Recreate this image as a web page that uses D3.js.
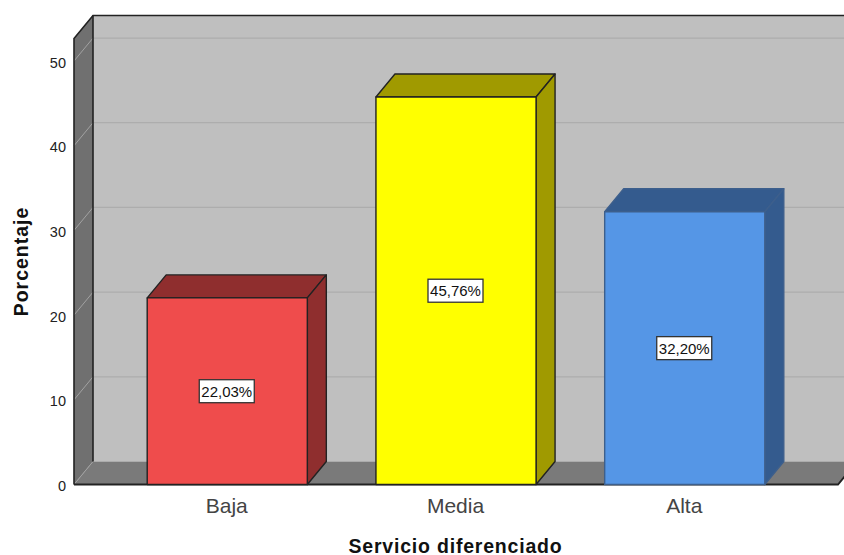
<!DOCTYPE html>
<html>
<head>
<meta charset="utf-8">
<script src="https://cdn.jsdelivr.net/npm/d3@7"></script>
<style>
html,body{margin:0;padding:0;background:#fff;overflow:hidden}
text{font-family:"Liberation Sans",Arial,sans-serif}
</style>
</head>
<body>
<script>
const categories = ["Baja", "Media", "Alta"];
const values = [22.03, 45.76, 32.20];
const valueLabels = ["22,03%", "45,76%", "32,20%"];
const frontColors = ["#ef4c4c", "#ffff00", "#5596e6"];
const sideColors = ["#8f2e2e", "#a09a00", "#345b8e"];
const edgeColors = ["#222", "#222", "#3d5f8c"];
const yTicks = [0, 10, 20, 30, 40, 50];
const xTitle = "Servicio diferenciado";
const yTitle = "Porcentaje";

const W = 844, H = 555, dx = 19, dy = -23;
const x0 = 74, x1 = 838, yBase = 484.5;
const y = d3.scaleLinear().domain([0, 52.66]).range([yBase, 38.5]);
const x = d3.scaleBand().domain(categories).range([x0, x1]).paddingInner(0.3).paddingOuter(0.32);
const yTop = y.range()[1];

const svg = d3.select("body").append("svg").attr("width", W).attr("height", H).style("display", "block");
const poly = pts => pts.map(p => p.join(",")).join(" ");
const ink = "#222";

// back wall
svg.append("rect").attr("x", x0 + dx).attr("y", yTop + dy).attr("width", W).attr("height", yBase - yTop)
  .attr("fill", "#bfbfbf");
// floor
svg.append("polygon").attr("points", poly([[x0, yBase], [x0 + dx, yBase + dy], [x1 + dx, yBase + dy], [x1, yBase]]))
  .attr("fill", "#7a7a7a");
// left wall
svg.append("polygon").attr("points", poly([[x0, yBase], [x0 + dx, yBase + dy], [x0 + dx, yTop + dy], [x0, yTop]]))
  .attr("fill", "#707070");

// gridlines
const gridTicks = yTicks.filter(d => d > 0);
svg.append("g").selectAll("line").data(gridTicks).join("line")
  .attr("x1", x0 + dx).attr("x2", W).attr("y1", d => y(d) + dy).attr("y2", d => y(d) + dy)
  .attr("stroke", "#adadad").attr("stroke-width", 1.2);
svg.append("g").selectAll("line").data(yTicks).join("line")
  .attr("x1", x0).attr("x2", x0 + dx).attr("y1", d => y(d)).attr("y2", d => y(d) + dy)
  .attr("stroke", "#a2a2a2").attr("stroke-width", 1);

// frame
svg.append("polyline").attr("points", poly([[x0, yBase], [x0, yTop], [x0 + dx, yTop + dy], [W, yTop + dy]]))
  .attr("fill", "none").attr("stroke", ink).attr("stroke-width", 1.6);
svg.append("line").attr("x1", x0 + dx).attr("x2", x0 + dx).attr("y1", yTop + dy).attr("y2", yBase + dy)
  .attr("stroke", ink).attr("stroke-width", 1.6);
svg.append("polyline").attr("points", poly([[x0, yBase], [x1, yBase], [x1 + dx, yBase + dy]]))
  .attr("fill", "none").attr("stroke", ink).attr("stroke-width", 1.8);

// bars
const bars = svg.append("g").selectAll("g").data(categories).join("g");
bars.each(function (c, i) {
  const g = d3.select(this), l = x(c), r = l + x.bandwidth(), t = y(values[i]);
  const add = (pts, fill) => g.append("polygon").attr("points", poly(pts)).attr("fill", fill)
    .attr("stroke", edgeColors[i]).attr("stroke-width", 1.4).attr("stroke-linejoin", "round");
  add([[l, t], [l + dx, t + dy], [r + dx, t + dy], [r, t]], sideColors[i]);
  add([[r, t], [r + dx, t + dy], [r + dx, yBase + dy], [r, yBase]], sideColors[i]);
  add([[l, t], [r, t], [r, yBase], [l, yBase]], frontColors[i]);
  const cx = l + x.bandwidth() / 2 - 0.5, cy = (t + yBase) / 2;
  g.append("rect").attr("x", cx - 27.5).attr("y", cy - 11.5).attr("width", 55).attr("height", 23)
    .attr("fill", "#fff").attr("stroke", "#333").attr("stroke-width", 1.3);
  g.append("text").attr("x", cx).attr("y", cy + 5.5).attr("text-anchor", "middle")
    .attr("font-size", 15).attr("fill", "#111").text(valueLabels[i]);
});

// y tick labels
svg.append("g").selectAll("text").data(yTicks).join("text")
  .attr("x", 66).attr("y", d => y(d) + 6.5).attr("text-anchor", "end")
  .attr("font-size", 14.5).attr("fill", "#222").text(d => d);

// category labels
svg.append("g").selectAll("text").data(categories).join("text")
  .attr("x", d => x(d) + x.bandwidth() / 2 - 0.5).attr("y", 512.5).attr("text-anchor", "middle")
  .attr("font-size", 21).attr("fill", "#444").text(d => d);

// axis titles
svg.append("text").attr("x", 455.5).attr("y", 553).attr("text-anchor", "middle")
  .attr("font-size", 19.5).attr("letter-spacing", 0.8).attr("font-weight", "bold").attr("fill", "#111").text(xTitle);
svg.append("text").attr("transform", "translate(28,261.5) rotate(-90)").attr("text-anchor", "middle")
  .attr("font-size", 19.5).attr("letter-spacing", 1).attr("font-weight", "bold").attr("fill", "#111").text(yTitle);
</script>
</body>
</html>
